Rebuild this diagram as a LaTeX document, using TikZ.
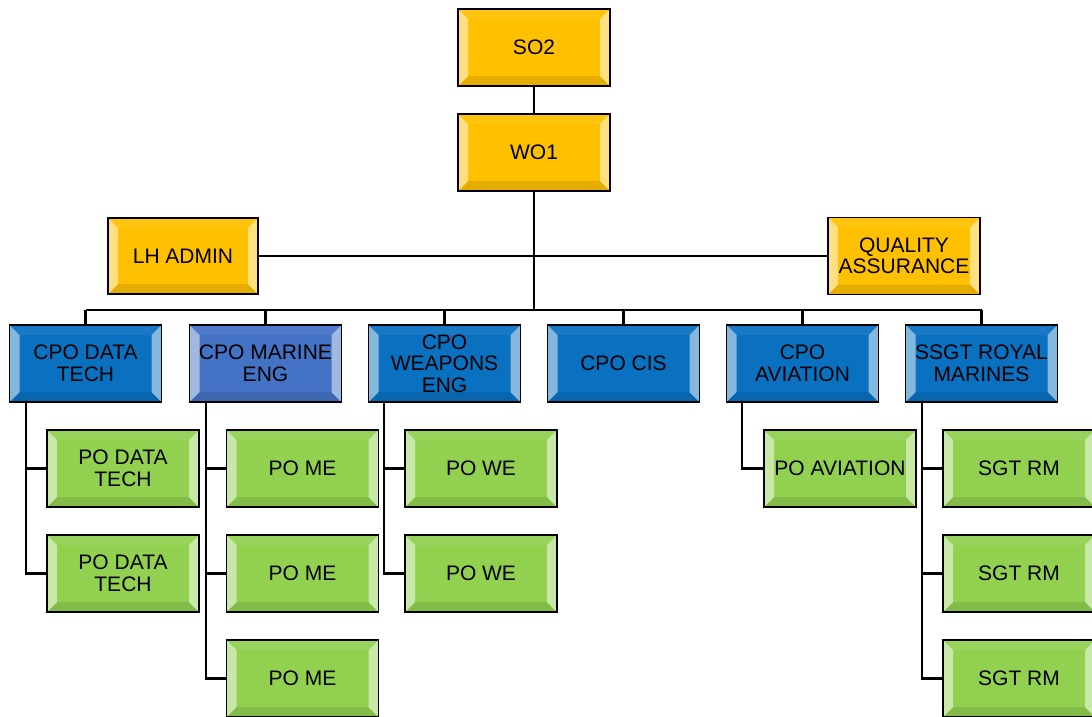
\documentclass[tikz,border=0pt]{standalone}
\usepackage{fontspec}
\setmainfont{Liberation Sans}
\definecolor{gold}{HTML}{FFC000}
\definecolor{cblue}{HTML}{0A70C0}
\definecolor{mblue}{HTML}{4472C4}
\definecolor{lgreen}{HTML}{92D050}
\tikzset{
  bev/.style={draw=black, line width=1.3pt, fill=#1, minimum width=152pt, minimum height=77pt,
    align=center, inner sep=0pt, font=\fontsize{21}{21.5}\selectfont,
    path picture={
      \path (path picture bounding box.north west) coordinate (bnw)
            (path picture bounding box.north east) coordinate (bne)
            (path picture bounding box.south west) coordinate (bsw)
            (path picture bounding box.south east) coordinate (bse);
      \fill[#1!94!white] (bnw) -- ++(10,10) -- ([shift={(-10,10)}]bne) -- (bne) -- cycle;
      \fill[#1!90!black] (bsw) -- ++(10,-10) -- ([shift={(-10,-10)}]bse) -- (bse) -- cycle;
      \fill[#1!50!white] (bnw) -- ++(10,10) -- ([shift={(10,-10)}]bsw) -- (bsw) -- cycle;
      \fill[#1!50!white] (bne) -- ++(-10,10) -- ([shift={(-10,-10)}]bse) -- (bse) -- cycle;
    }},
  conn/.style={draw=black, line width=2.5pt}
}
\begin{document}
\begin{tikzpicture}[x=1pt,y=-1pt]
\useasboundingbox (0,0) rectangle (1092,716);
\clip (0,0) rectangle (1092,716);
% top
\node[bev=gold] (so2) at (534,47.5) {SO2};
\node[bev=gold] (wo1) at (534,152.5) {WO1};
\node[bev=gold, minimum width=150pt, minimum height=76pt] (lh) at (183,256) {LH ADMIN};
\node[bev=gold] (qa) at (904,256) {QUALITY\\ASSURANCE};
% CPO row
\node[bev=cblue] (c1) at (85.5,363.5) {CPO DATA\\TECH};
\node[bev=mblue] (c2) at (265.5,363.5) {CPO MARINE\\ENG};
\node[bev=cblue] (c3) at (444.5,363.5) {CPO\\WEAPONS\\ENG};
\node[bev=cblue] (c4) at (623.5,363.5) {CPO CIS};
\node[bev=cblue] (c5) at (802.5,363.5) {CPO\\AVIATION};
\node[bev=cblue] (c6) at (981.5,363.5) {SSGT ROYAL\\MARINES};
% children
\node[bev=lgreen] (p1a) at (123,468.5) {PO DATA\\TECH};
\node[bev=lgreen] (p1b) at (123,573.5) {PO DATA\\TECH};
\node[bev=lgreen] (p2a) at (302.5,468.5) {PO ME};
\node[bev=lgreen] (p2b) at (302.5,573.5) {PO ME};
\node[bev=lgreen] (p2c) at (302.5,678.5) {PO ME};
\node[bev=lgreen] (p3a) at (481,468.5) {PO WE};
\node[bev=lgreen] (p3b) at (481,573.5) {PO WE};
\node[bev=lgreen] (p5a) at (840,468.5) {PO AVIATION};
\node[bev=lgreen] (p6a) at (1019,468.5) {SGT RM};
\node[bev=lgreen] (p6b) at (1019,573.5) {SGT RM};
\node[bev=lgreen] (p6c) at (1019,678.5) {SGT RM};
% connectors
\coordinate (busL) at (85.5,310);
\coordinate (busR) at (981.5,310);
\draw[conn] (so2) -- (wo1);
\draw[conn] (wo1) -- (wo1 |- busL);
\draw[conn] (busL) -- (busR);
\draw[conn] (lh) -- (qa);
\foreach \c in {c1,c2,c3,c4,c5,c6} {\draw[conn] (\c) -- (\c |- busL);}
\draw[conn] ([xshift=17pt]c1.south west) |- (p1b.west);
\draw[conn] ([xshift=17pt]c1.south west |- p1a.west) -- (p1a.west);
\draw[conn] ([xshift=17pt]c2.south west) |- (p2c.west);
\draw[conn] ([xshift=17pt]c2.south west |- p2a.west) -- (p2a.west);
\draw[conn] ([xshift=17pt]c2.south west |- p2b.west) -- (p2b.west);
\draw[conn] ([xshift=16pt]c3.south west) |- (p3b.west);
\draw[conn] ([xshift=16pt]c3.south west |- p3a.west) -- (p3a.west);
\draw[conn] ([xshift=16pt]c5.south west) |- (p5a.west);
\draw[conn] ([xshift=17pt]c6.south west) |- (p6c.west);
\draw[conn] ([xshift=17pt]c6.south west |- p6a.west) -- (p6a.west);
\draw[conn] ([xshift=17pt]c6.south west |- p6b.west) -- (p6b.west);
\end{tikzpicture}
\end{document}
